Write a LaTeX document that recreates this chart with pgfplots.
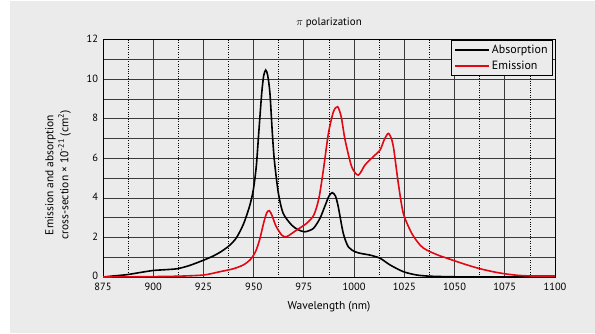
\documentclass[border=0pt]{standalone}
\usepackage{pgfplots}
\pgfplotsset{compat=1.18}
\usepackage{fontspec}
\setmainfont{PT Sans}
\definecolor{bg}{HTML}{EBEBEB}
\definecolor{gridc}{HTML}{3A3A3A}
\definecolor{emred}{HTML}{E30613}
\begin{document}
\begin{tikzpicture}[x=1bp,y=1bp]
\path[use as bounding box] (0,0) rectangle (595,333);
\fill[white] (0,0) rectangle (595,333);
\fill[bg] (10,0) rectangle (595,332);
\node[font=\fontsize{11}{13}\selectfont] at (329,310) {$\pi$ polarization};
\node[font=\fontsize{11.5}{13}\selectfont] at (329,26) {Wavelength (nm)};
\node[font=\fontsize{11.5}{13}\selectfont, rotate=90, align=center] at (58,158)
  {Emission and absorption\\[2bp] cross-section × 10\textsuperscript{-21} (cm\textsuperscript{2})};
\begin{axis}[
  at={(103bp,56bp)}, anchor=south west,
  scale only axis, width=452bp, height=237bp,
  xmin=875, xmax=1100, ymin=0, ymax=12,
  xtick={875,900,...,1100}, ytick={0,2,...,12},
  minor x tick num=1, minor y tick num=1,
  grid=both,
  major grid style={gridc, line width=1bp},
  minor x grid style={black, dotted, line width=0.8bp},
  minor y grid style={gridc, line width=1bp},
  major tick length=0pt, minor tick length=0pt,
  axis line style={black, line width=1bp},
  tick label style={font=\fontsize{10.5}{12}\selectfont},
  /pgf/number format/assume math mode=true,
  /pgf/number format/1000 sep={},
  xticklabel style={yshift=-2.5bp},
  yticklabel style={xshift=-1.5bp, yshift=1bp},
  legend style={at={(axis description cs:0.994,1)}, anchor=north east,
    fill=bg, draw=black, font=\fontsize{12}{14}\selectfont,
    inner sep=2.5bp, row sep=2bp},
  legend cell align=left,
  legend image code/.code={\draw[#1, line width=1.8bp] (0bp,0bp) -- (34bp,0bp);},
]
\addplot[black, line width=1.6bp, smooth, tension=0.45] coordinates {
(875,0.0) (880,0.05) (887,0.12) (893,0.22) (900,0.33) (906,0.37) (912,0.42)
(918,0.58) (925,0.85) (930,1.07) (934,1.3) (938,1.6) (941.5,2.0) (945,2.7)
(948,3.6) (949.8,4.4) (951.3,5.6) (952.6,7.4) (954,9.3)
(955,10.2) (956,10.48) (957,10.2) (958.1,9.3) (959.3,7.27) (960.3,5.9)
(962.3,4.24) (964.7,3.22) (968.9,2.63) (972,2.4) (975.5,2.29) (979.7,2.46)
(983,2.97) (985.5,3.6) (987.5,4.1) (989.1,4.27) (990.7,4.1) (992.1,3.56)
(994.6,2.21) (997.1,1.53) (1000.4,1.28) (1004,1.18) (1007.9,1.11) (1012.9,0.95)
(1017.9,0.61) (1024.5,0.27) (1031.2,0.1) (1038,0.04) (1050,0.01) (1070,0.0) (1100,0.0)
};
\addplot[emred, line width=1.6bp, smooth, tension=0.45] coordinates {
(875,0.0) (890,0.01) (900,0.02) (912,0.04) (925,0.1) (933.2,0.27) (940,0.42)
(945,0.62) (948.5,0.9) (951,1.3) (953,1.9) (955,2.75) (956.5,3.25)
(957.8,3.36) (959.2,3.1) (961,2.6) (963.9,2.13) (966.4,2.04) (971.4,2.38)
(976.4,2.72) (980,3.15) (982.5,4.0) (984.7,5.42) (987.2,7.27) (989.7,8.37)
(991.8,8.62) (993.6,8.1) (995.5,6.94) (998.8,5.58) (1002.1,5.16) (1005.4,5.67)
(1009.5,6.09) (1012.9,6.43) (1015,6.95) (1017,7.27) (1018.6,7.0) (1019.8,6.43)
(1022,4.74) (1024.5,3.22) (1028.7,2.21) (1032.8,1.62) (1036,1.37) (1042,1.1)
(1047.7,0.9) (1055,0.65) (1062.6,0.42) (1070,0.25) (1075.9,0.15) (1082,0.08)
(1089,0.05) (1100,0.05)
};
\legend{Absorption, Emission}
\end{axis}
\end{tikzpicture}
\end{document}
